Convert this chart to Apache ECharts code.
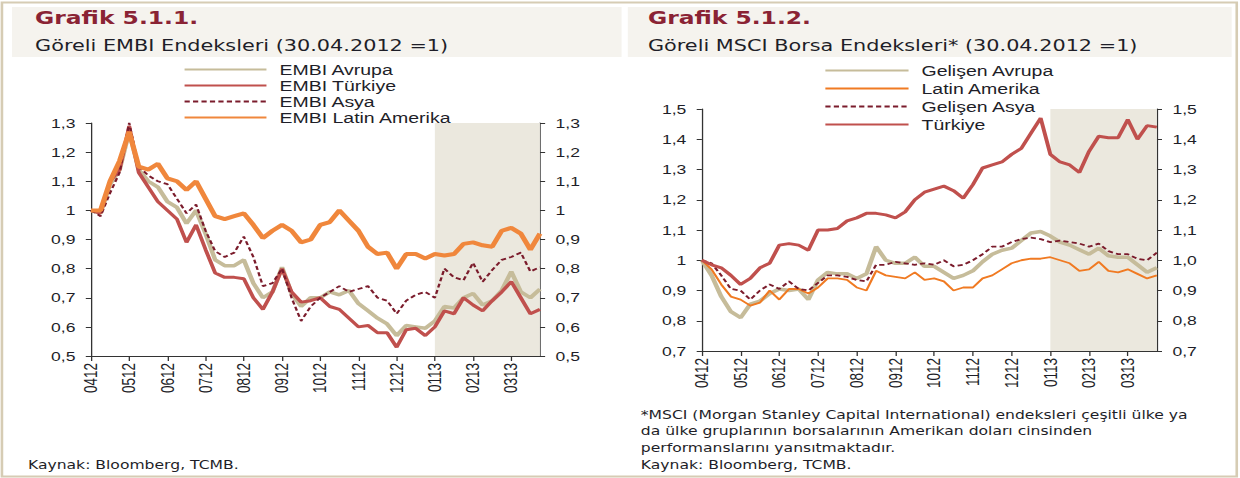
<!DOCTYPE html>
<html lang="tr">
<head>
<meta charset="UTF-8">
<title>Göreli EMBI ve MSCI Endeksleri</title>
<script src="https://cdn.jsdelivr.net/npm/echarts@6/dist/echarts.min.js"></script>
<style>
    html, body { margin: 0; padding: 0; background: #fff; overflow: hidden; }
    /* the source figure is stretched horizontally, so draw narrow and widen */
    #chart { width: 954px; height: 478px; transform: scaleX(1.29979); transform-origin: 0 0; }
</style>
</head>
<body>
<div id="chart"></div>
<script>
    // month tick labels (MMYY), 4 samples per month
    var months = ['0412', '0512', '0612', '0712', '0812', '0912', '1012', '1112', '1212', '0113', '0213', '0313'];

    // Grafik 5.1.1 - EMBI (30.04.2012 = 1)
    var embiAvrupa = [1.00, 0.99, 1.09, 1.14, 1.27, 1.14, 1.10, 1.08, 1.03, 1.01, 0.955, 1.00,
        0.92, 0.83, 0.81, 0.81, 0.83, 0.75, 0.70, 0.72, 0.805, 0.715, 0.67, 0.70,
        0.70, 0.72, 0.71, 0.725, 0.68, 0.655, 0.63, 0.61, 0.57, 0.605, 0.60, 0.595,
        0.62, 0.67, 0.665, 0.70, 0.715, 0.675, 0.69, 0.725, 0.79, 0.72, 0.70, 0.73];
    var embiTurkiye = [1.00, 0.99, 1.10, 1.14, 1.29, 1.13, 1.08, 1.03, 1.00, 0.97, 0.89, 0.95,
        0.865, 0.785, 0.77, 0.77, 0.765, 0.70, 0.66, 0.72, 0.80, 0.72, 0.685, 0.69,
        0.70, 0.67, 0.66, 0.63, 0.60, 0.605, 0.58, 0.58, 0.53, 0.59, 0.595, 0.57,
        0.60, 0.655, 0.645, 0.70, 0.675, 0.655, 0.69, 0.72, 0.755, 0.70, 0.645, 0.66];
    var embiAsya = [1.00, 0.98, 1.06, 1.13, 1.30, 1.15, 1.12, 1.10, 1.09, 1.04, 0.99, 1.02,
        0.93, 0.86, 0.84, 0.855, 0.91, 0.84, 0.74, 0.75, 0.80, 0.70, 0.62, 0.67,
        0.70, 0.72, 0.74, 0.72, 0.73, 0.74, 0.70, 0.69, 0.645, 0.69, 0.71, 0.72,
        0.70, 0.80, 0.77, 0.76, 0.82, 0.755, 0.795, 0.83, 0.84, 0.855, 0.79, 0.805];
    var embiLatin = [1.00, 1.00, 1.10, 1.17, 1.27, 1.15, 1.14, 1.16, 1.11, 1.10, 1.07, 1.10,
        1.04, 0.98, 0.97, 0.98, 0.99, 0.95, 0.905, 0.93, 0.95, 0.93, 0.89, 0.90,
        0.95, 0.96, 1.00, 0.965, 0.93, 0.875, 0.85, 0.855, 0.80, 0.85, 0.85, 0.835,
        0.85, 0.845, 0.85, 0.885, 0.89, 0.88, 0.875, 0.93, 0.94, 0.92, 0.865, 0.92];

    // Grafik 5.1.2 - MSCI (30.04.2012 = 1)
    var gelisenAvrupa = [1.00, 0.95, 0.88, 0.83, 0.81, 0.855, 0.865, 0.89, 0.905, 0.90, 0.905, 0.87,
        0.935, 0.96, 0.955, 0.955, 0.94, 0.955, 1.045, 1.00, 0.99, 0.99, 1.01, 0.98,
        0.98, 0.96, 0.94, 0.95, 0.965, 0.995, 1.02, 1.033, 1.04, 1.065, 1.09, 1.095,
        1.08, 1.06, 1.05, 1.035, 1.02, 1.04, 1.015, 1.01, 1.01, 0.985, 0.96, 0.975];
    var latinAmerika = [1.00, 0.97, 0.92, 0.88, 0.87, 0.85, 0.86, 0.90, 0.87, 0.905, 0.905, 0.89,
        0.91, 0.94, 0.94, 0.935, 0.91, 0.90, 0.965, 0.95, 0.945, 0.94, 0.96, 0.935,
        0.94, 0.93, 0.90, 0.91, 0.91, 0.94, 0.95, 0.97, 0.99, 1.00, 1.005, 1.005,
        1.01, 1.00, 0.99, 0.965, 0.97, 0.995, 0.965, 0.96, 0.97, 0.955, 0.94, 0.95];
    var gelisenAsya = [1.00, 0.99, 0.95, 0.905, 0.90, 0.87, 0.90, 0.92, 0.905, 0.93, 0.905, 0.90,
        0.925, 0.95, 0.95, 0.945, 0.935, 0.93, 0.985, 0.985, 0.995, 0.99, 0.985, 0.99,
        0.985, 1.00, 0.98, 0.985, 1.00, 1.02, 1.045, 1.045, 1.06, 1.07, 1.075, 1.07,
        1.06, 1.065, 1.06, 1.055, 1.045, 1.055, 1.03, 1.02, 1.02, 1.005, 1.00, 1.025];
    var turkiye = [1.00, 0.985, 0.975, 0.95, 0.92, 0.94, 0.975, 0.99, 1.05, 1.055, 1.05, 1.033,
        1.10, 1.10, 1.105, 1.13, 1.14, 1.155, 1.155, 1.15, 1.14, 1.16, 1.20, 1.225,
        1.235, 1.245, 1.23, 1.205, 1.25, 1.305, 1.315, 1.325, 1.35, 1.37, 1.42, 1.47,
        1.35, 1.325, 1.315, 1.29, 1.36, 1.41, 1.405, 1.405, 1.465, 1.40, 1.445, 1.44];

    // one category per sample, labelled with its month
    var cats = [];
    months.forEach(function (m) {
        for (var w = 1; w <= 4; w++) cats.push(m + '-' + w);
    });
    var shadeFrom = cats[36], shadeTo = cats[47];

    var khaki = '#c6bc9a', red = '#c0504d', darkRed = '#7b1c2c', orange = '#f0873c', orange2 = '#f07a22';
    var txt = '#1e1e28';
    var sansFont = 'Liberation Sans';
    var gothFont = 'DejaVu Sans';

    function comma(v) {
        return Math.abs(v - 1) < 1e-9 ? '1' : v.toFixed(1).replace('.', ',');
    }
    function comma1(v) {
        return v.toFixed(1).replace('.', ',');
    }

    function xAxis(grid) {
        return {
            type: 'category', gridIndex: grid, data: cats, boundaryGap: false,
            axisLine: { onZero: false, lineStyle: { color: '#333', width: 1 } },
            axisTick: { interval: 3, length: 5, lineStyle: { color: '#333' } },
            axisLabel: {
                interval: 3, rotate: 90, margin: 7, color: txt, fontFamily: sansFont, fontSize: 13.5,
                formatter: function (v) { return v.slice(0, 4); }
            },
            splitLine: { show: false }
        };
    }
    function yAxis(grid, pos, min, max, fmt) {
        return {
            type: 'value', gridIndex: grid, position: pos, min: min, max: max, interval: 0.1,
            axisLine: { show: true, lineStyle: { color: '#333', width: 1 } },
            axisTick: { show: true, length: 4, lineStyle: { color: '#333' } },
            axisLabel: { margin: 12, color: txt, fontFamily: sansFont, fontSize: 13.5, formatter: fmt },
            splitLine: { show: false }
        };
    }
    function line(name, data, xi, yi, color, width, dashed) {
        return {
            name: name, type: 'line', xAxisIndex: xi, yAxisIndex: yi, data: data,
            symbol: 'none', smooth: false, silent: true,
            lineStyle: { color: color, width: width, type: dashed ? [4, 2.5] : 'solid' },
            itemStyle: { color: color }
        };
    }
    function shade() {
        return {
            silent: true,
            itemStyle: { color: '#ebe8de' },
            data: [[{ xAxis: shadeFrom }, { xAxis: shadeTo }]]
        };
    }

    var s1 = line('EMBI Avrupa', embiAvrupa, 0, 0, khaki, 3.5);
    s1.markArea = shade();
    var s5 = line('Gelişen Avrupa', gelisenAvrupa, 1, 2, khaki, 3.5);
    s5.markArea = shade();

    var legendText = { color: txt, fontFamily: sansFont, fontSize: 15, padding: [0, 0, 0, 5] };

    var option = {
        animation: false,
        backgroundColor: '#fff',
        title: [
            {
                text: 'Grafik 5.1.1.', subtext: 'Göreli EMBI Endeksleri (30.04.2012 =1)',
                left: 27, top: 9, itemGap: 10, padding: 0,
                textStyle: { color: '#8a2334', fontFamily: gothFont, fontWeight: 'bold', fontSize: 18 },
                subtextStyle: { color: txt, fontFamily: gothFont, fontSize: 16 }
            },
            {
                text: 'Grafik 5.1.2.', subtext: 'Göreli MSCI Borsa Endeksleri* (30.04.2012 =1)',
                left: 498.5, top: 9, itemGap: 10, padding: 0,
                textStyle: { color: '#8a2334', fontFamily: gothFont, fontWeight: 'bold', fontSize: 18 },
                subtextStyle: { color: txt, fontFamily: gothFont, fontSize: 16 }
            }
        ],
        legend: [
            {
                orient: 'vertical', left: 141, top: 62, padding: 0,
                itemWidth: 63, itemHeight: 12, itemGap: 1,
                itemStyle: { opacity: 0 },
                textStyle: legendText,
                data: ['EMBI Avrupa', 'EMBI Türkiye', 'EMBI Asya', 'EMBI Latin Amerika']
            },
            {
                orient: 'vertical', left: 634, top: 63, padding: 0,
                itemWidth: 64, itemHeight: 12, itemGap: 3,
                itemStyle: { opacity: 0 },
                textStyle: legendText,
                data: ['Gelişen Avrupa', 'Latin Amerika', 'Gelişen Asya', 'Türkiye']
            }
        ],
        grid: [
            { left: 70, top: 123, width: 345.4, height: 233, outerBoundsMode: 'none' },
            { left: 540, top: 109, width: 350, height: 242, outerBoundsMode: 'none' }
        ],
        xAxis: [xAxis(0), xAxis(1)],
        yAxis: [
            yAxis(0, 'left', 0.5, 1.3, comma),
            yAxis(0, 'right', 0.5, 1.3, comma),
            yAxis(1, 'left', 0.7, 1.5, comma),
            yAxis(1, 'right', 0.7, 1.5, comma1)
        ],
        series: [
            s1,
            line('EMBI Türkiye', embiTurkiye, 0, 0, red, 3),
            line('EMBI Asya', embiAsya, 0, 0, darkRed, 1.8, true),
            line('EMBI Latin Amerika', embiLatin, 0, 0, orange, 4),
            s5,
            line('Latin Amerika', latinAmerika, 1, 2, orange2, 1.8),
            line('Gelişen Asya', gelisenAsya, 1, 2, darkRed, 1.8, true),
            line('Türkiye', turkiye, 1, 2, red, 3)
        ],
        graphic: [
            // header bands and frame
            { type: 'rect', z: -10, silent: true, shape: { x: 9.2, y: 7, width: 469, height: 50 }, style: { fill: '#f5f3ee' } },
            { type: 'rect', z: -10, silent: true, shape: { x: 483, y: 7, width: 464.6, height: 50 }, style: { fill: '#f5f3ee' } },
            { type: 'rect', z: -9, silent: true, shape: { x: 1.5, y: 2.5, width: 950, height: 474 }, style: { fill: null, stroke: '#d6ccb4', lineWidth: 2 } },
            {
                type: 'text', left: 21.5, top: 459, silent: true,
                style: { text: 'Kaynak: Bloomberg, TCMB.', fill: txt, font: '12px "DejaVu Sans"' }
            },
            {
                type: 'text', left: 493, top: 406, silent: true,
                style: {
                    text: '*MSCI (Morgan Stanley Capital International) endeksleri çeşitli ülke ya\n' +
                        'da ülke gruplarının borsalarının Amerikan doları cinsinden\n' +
                        'performanslarını yansıtmaktadır.\n' +
                        'Kaynak: Bloomberg, TCMB.',
                    fill: txt, font: '12px "DejaVu Sans"', lineHeight: 16.7
                }
            }
        ]
    };

    var myChart = echarts.init(document.getElementById('chart'), null, { renderer: 'svg' });
    myChart.setOption(option);
</script>
</body>
</html>
